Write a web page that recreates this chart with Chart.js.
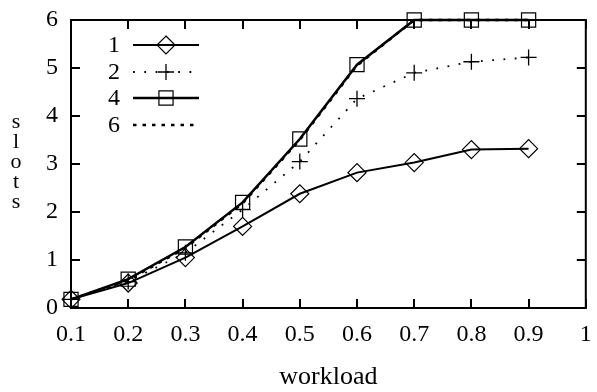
<!DOCTYPE html>
<html><head><meta charset="utf-8">
<script src="https://cdn.jsdelivr.net/npm/chart.js@4/dist/chart.umd.min.js"></script>
<style>html,body{margin:0;padding:0;background:#fff}#wrap{width:597px;height:392px;position:relative}</style>
</head><body><div id="wrap"><canvas id="c" width="597" height="392"></canvas></div>
<script>
const workload=[0.1,0.2,0.3,0.4,0.5,0.6,0.7,0.8,0.9];
const series1=[0.18,0.52,1.05,1.7,2.38,2.82,3.03,3.3,3.32];
const series2=[0.18,0.55,1.15,2.05,3.05,4.36,4.9,5.13,5.22];
const series4=[0.18,0.6,1.27,2.2,3.52,5.07,6,6,6];
const series6=[0.18,0.58,1.25,2.18,3.5,5.05,6,6,6];
const seriesNames=['1','2','4','6'];
const xTicks=[0.1,0.2,0.3,0.4,0.5,0.6,0.7,0.8,0.9,1];
const yTicks=[0,1,2,3,4,5,6];
const xTitle='workload';
const yTitle='slots';

const FONT='"Liberation Serif", "DejaVu Serif", serif';
const pts=arr=>workload.map((x,i)=>({x:x,y:arr[i]}));
const base={borderColor:'#000',pointBorderColor:'#000',pointBackgroundColor:'rgba(0,0,0,0)',backgroundColor:'rgba(0,0,0,0)',tension:0,clip:false,pointBorderWidth:1.2,fill:false};
const datasets=[
  Object.assign({},base,{label:seriesNames[0],data:pts(series1),borderWidth:2,pointStyle:'rectRot',pointRadius:9}),
  Object.assign({},base,{label:seriesNames[1],data:pts(series2),borderWidth:1.8,borderDash:[1.8,9.5],pointStyle:'cross',pointRadius:8,pointBorderWidth:1.3}),
  Object.assign({},base,{label:seriesNames[2],data:pts(series4),borderWidth:2.5,pointStyle:'rect',pointRadius:10}),
  Object.assign({},base,{label:seriesNames[3],data:pts(series6),borderWidth:2.5,borderDash:[3.5,6],pointRadius:0})
];

function drawMarker(ctx,style,x,y,r){
  ctx.beginPath();
  if(style==='rectRot'){ctx.moveTo(x,y-r);ctx.lineTo(x+r,y);ctx.lineTo(x,y+r);ctx.lineTo(x-r,y);ctx.closePath();}
  else if(style==='rect'){const h=r*Math.SQRT1_2;ctx.rect(x-h,y-h,2*h,2*h);}
  else if(style==='cross'){ctx.moveTo(x-r,y);ctx.lineTo(x+r,y);ctx.moveTo(x,y-r);ctx.lineTo(x,y+r);}
  ctx.stroke();
}

const decor={
  id:'decor',
  afterDatasetsDraw(chart){
    const ctx=chart.ctx,a=chart.chartArea,sx=chart.scales.x,sy=chart.scales.y;
    ctx.save();
    ctx.strokeStyle='#000';ctx.lineWidth=2;ctx.setLineDash([]);
    ctx.strokeRect(a.left,a.top,a.right-a.left,a.bottom-a.top);
    const tl=9;
    xTicks.forEach(v=>{const px=Math.round(sx.getPixelForValue(v));
      ctx.beginPath();ctx.moveTo(px,a.bottom);ctx.lineTo(px,a.bottom-tl);ctx.moveTo(px,a.top);ctx.lineTo(px,a.top+tl);ctx.stroke();});
    yTicks.forEach(v=>{const py=Math.round(sy.getPixelForValue(v));
      ctx.beginPath();ctx.moveTo(a.left,py);ctx.lineTo(a.left+tl,py);ctx.moveTo(a.right,py);ctx.lineTo(a.right-tl,py);ctx.stroke();});
    // legend
    const ly=[45,72,98,125];
    ctx.fillStyle='#000';ctx.font='24px '+FONT;ctx.textAlign='right';ctx.textBaseline='middle';
    chart.data.datasets.forEach((d,i)=>{
      const y=ly[i];
      ctx.fillText(d.label,120,y+1);
      ctx.lineWidth=d.borderWidth;ctx.setLineDash(d.borderDash||[]);
      ctx.beginPath();ctx.moveTo(133,y);ctx.lineTo(199,y);ctx.stroke();
      ctx.setLineDash([]);
      if(d.pointRadius>0){ctx.lineWidth=d.pointBorderWidth;
        if(d.pointStyle!=='cross'){ctx.fillStyle='#fff';}
        drawMarker(ctx,d.pointStyle,166,y,d.pointRadius);ctx.fillStyle='#000';}
    });
    // titles
    ctx.font='26px '+FONT;ctx.textAlign='center';ctx.textBaseline='middle';
    ctx.fillText(xTitle,(a.left+a.right)/2,377);
    ctx.font='22px '+FONT;
    yTitle.split('').forEach((ch,i)=>ctx.fillText(ch,16,122+i*20));
    ctx.restore();
  }
};

new Chart(document.getElementById('c'),{
  type:'line',
  data:{datasets:datasets},
  options:{
    responsive:false,animation:false,devicePixelRatio:1,
    layout:{padding:{top:20,right:3,left:0,bottom:0}},
    plugins:{legend:{display:false},tooltip:{enabled:false}},
    scales:{
      x:{type:'linear',min:0.1,max:1,
        afterBuildTicks:s=>{s.ticks=xTicks.map(v=>({value:v}));},
        afterFit:s=>{s.height=84;s.paddingLeft=0;s.paddingRight=0;},
        grid:{display:false,drawTicks:false},border:{display:false},
        ticks:{padding:12,color:'#000',font:{family:FONT,size:24},maxRotation:0,autoSkip:false,
          callback:v=>v===1?'1':Number(v).toFixed(1)}},
      y:{type:'linear',min:0,max:6,
        afterBuildTicks:s=>{s.ticks=yTicks.map(v=>({value:v}));},
        afterFit:s=>{s.width=71;s.paddingTop=0;s.paddingBottom=0;},
        grid:{display:false,drawTicks:false},border:{display:false},
        ticks:{padding:13,color:'#000',font:{family:FONT,size:24},
          callback:v=>String(v)}}
    }
  },
  plugins:[decor]
});
</script></body></html>
